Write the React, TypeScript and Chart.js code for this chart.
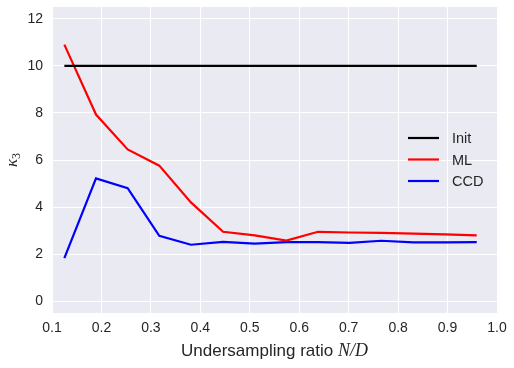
import React, { useEffect, useRef } from "react";
import { Chart, registerables } from "chart.js";

Chart.register(...registerables);

const xValues = [0.125, 0.189, 0.253, 0.317, 0.381, 0.446, 0.51, 0.574, 0.638, 0.702, 0.766, 0.831, 0.895, 0.959];
const initValues = [10, 10, 10, 10, 10, 10, 10, 10, 10, 10, 10, 10, 10, 10];
const mlValues = [10.9, 7.93, 6.45, 5.76, 4.2, 2.95, 2.8, 2.58, 2.95, 2.92, 2.9, 2.87, 2.84, 2.8];
const ccdValues = [1.83, 5.22, 4.8, 2.78, 2.4, 2.52, 2.45, 2.51, 2.51, 2.48, 2.57, 2.5, 2.5, 2.51];
const seriesNames = ["Init", "ML", "CCD"];
const seriesColors = ["#000000", "#ff0000", "#0000ff"];
const xTicks = [0.1, 0.2, 0.3, 0.4, 0.5, 0.6, 0.7, 0.8, 0.9, 1.0];
const yTicks = [0, 2, 4, 6, 8, 10, 12];
const xTitleText = "Undersampling ratio ";
const xTitleMath = "N/D";

const TEXT = "#262626";
const SANS = "'Liberation Sans', Arial, sans-serif";
const SERIF = "'Liberation Serif', 'Times New Roman', serif";

const decor = {
  id: "decor",
  beforeDraw(chart: any) {
    const { ctx, chartArea: a } = chart;
    ctx.save();
    ctx.fillStyle = "#eaeaf2";
    ctx.fillRect(a.left, a.top, a.right - a.left, a.bottom - a.top);
    ctx.restore();
  },
  afterDraw(chart: any) {
    const { ctx, chartArea: a } = chart;
    ctx.save();
    // x title
    ctx.textBaseline = "alphabetic";
    ctx.font = `17px ${SANS}`;
    const w1 = ctx.measureText(xTitleText).width;
    ctx.font = `italic 18px ${SERIF}`;
    const w2 = ctx.measureText(xTitleMath).width;
    const cx = (a.left + a.right) / 2;
    const x0 = cx - (w1 + w2) / 2;
    ctx.fillStyle = TEXT;
    ctx.textAlign = "left";
    ctx.font = `17px ${SANS}`;
    ctx.fillText(xTitleText, x0, 356);
    ctx.font = `italic 18px ${SERIF}`;
    ctx.fillText(xTitleMath, x0 + w1, 356);

    // y title kappa_3
    ctx.save();
    ctx.translate(17, (a.top + a.bottom) / 2);
    ctx.rotate(-Math.PI / 2);
    ctx.font = `italic 17px ${SERIF}`;
    const kw = ctx.measureText("κ").width;
    ctx.font = `12px ${SERIF}`;
    const sw = ctx.measureText("3").width;
    const sx = -(kw + sw) / 2;
    ctx.font = `italic 17px ${SERIF}`;
    ctx.fillText("κ", sx, 0);
    ctx.font = `12px ${SERIF}`;
    ctx.fillText("3", sx + kw, 3);
    ctx.restore();

    // legend
    const ly = [138, 159.5, 181];
    ctx.font = `14.5px ${SANS}`;
    ctx.textBaseline = "middle";
    for (let i = 0; i < seriesNames.length; i++) {
      ctx.strokeStyle = seriesColors[i];
      ctx.lineWidth = 2.2;
      ctx.beginPath();
      ctx.moveTo(408, ly[i]);
      ctx.lineTo(439, ly[i]);
      ctx.stroke();
      ctx.fillStyle = TEXT;
      ctx.fillText(seriesNames[i], 452, ly[i] + 1);
    }
    ctx.restore();
  },
};

export default function App() {
  const ref = useRef<HTMLCanvasElement>(null);
  useEffect(() => {
    if (!ref.current) return;
    const mk = (vals: number[]) => xValues.map((x, i) => ({ x, y: vals[i] }));
    const allVals = [initValues, mlValues, ccdValues];
    const chart = new Chart(ref.current, {
      type: "line",
      data: {
        datasets: allVals.map((v, i) => ({
          label: seriesNames[i],
          data: mk(v),
          borderColor: seriesColors[i],
          backgroundColor: seriesColors[i],
          borderWidth: 2.2,
          pointRadius: 0,
          tension: 0,
          fill: false,
        })),
      },
      options: {
        animation: false,
        responsive: false,
        devicePixelRatio: 1,
        layout: { padding: { top: 7, right: 17, left: 0, bottom: 0 } },
        plugins: { legend: { display: false }, tooltip: { enabled: false } },
        scales: {
          x: {
            type: "linear",
            min: 0.1,
            max: 1.0,
            afterBuildTicks: (s: any) => {
              s.ticks = xTicks.map((v) => ({ value: v }));
            },
            afterFit: (s: any) => {
              s.height = 55;
              s.paddingLeft = 0;
              s.paddingRight = 0;
            },
            grid: { color: "#ffffff", lineWidth: 1, drawTicks: false },
            border: { display: false },
            ticks: {
              color: TEXT,
              font: { family: SANS, size: 14 },
              padding: 7,
              maxRotation: 0,
              callback: (v: any) => Number(v).toFixed(1),
            },
          },
          y: {
            type: "linear",
            min: -0.5,
            max: 12.5,
            afterBuildTicks: (s: any) => {
              s.ticks = yTicks.map((v) => ({ value: v }));
            },
            afterFit: (s: any) => {
              s.width = 52;
              s.paddingTop = 0;
              s.paddingBottom = 0;
            },
            grid: { color: "#ffffff", lineWidth: 1, drawTicks: false },
            border: { display: false },
            ticks: {
              color: TEXT,
              font: { family: SANS, size: 14 },
              padding: 9,
              callback: (v: any) => String(v),
            },
          },
        },
      },
      plugins: [decor],
    });
    return () => chart.destroy();
  }, []);
  return (
    <div style={{ position: "fixed", left: 0, top: 0, width: 514, height: 368, background: "#fff" }}>
      <canvas ref={ref} width={514} height={368} style={{ width: 514, height: 368 }} />
    </div>
  );
}
